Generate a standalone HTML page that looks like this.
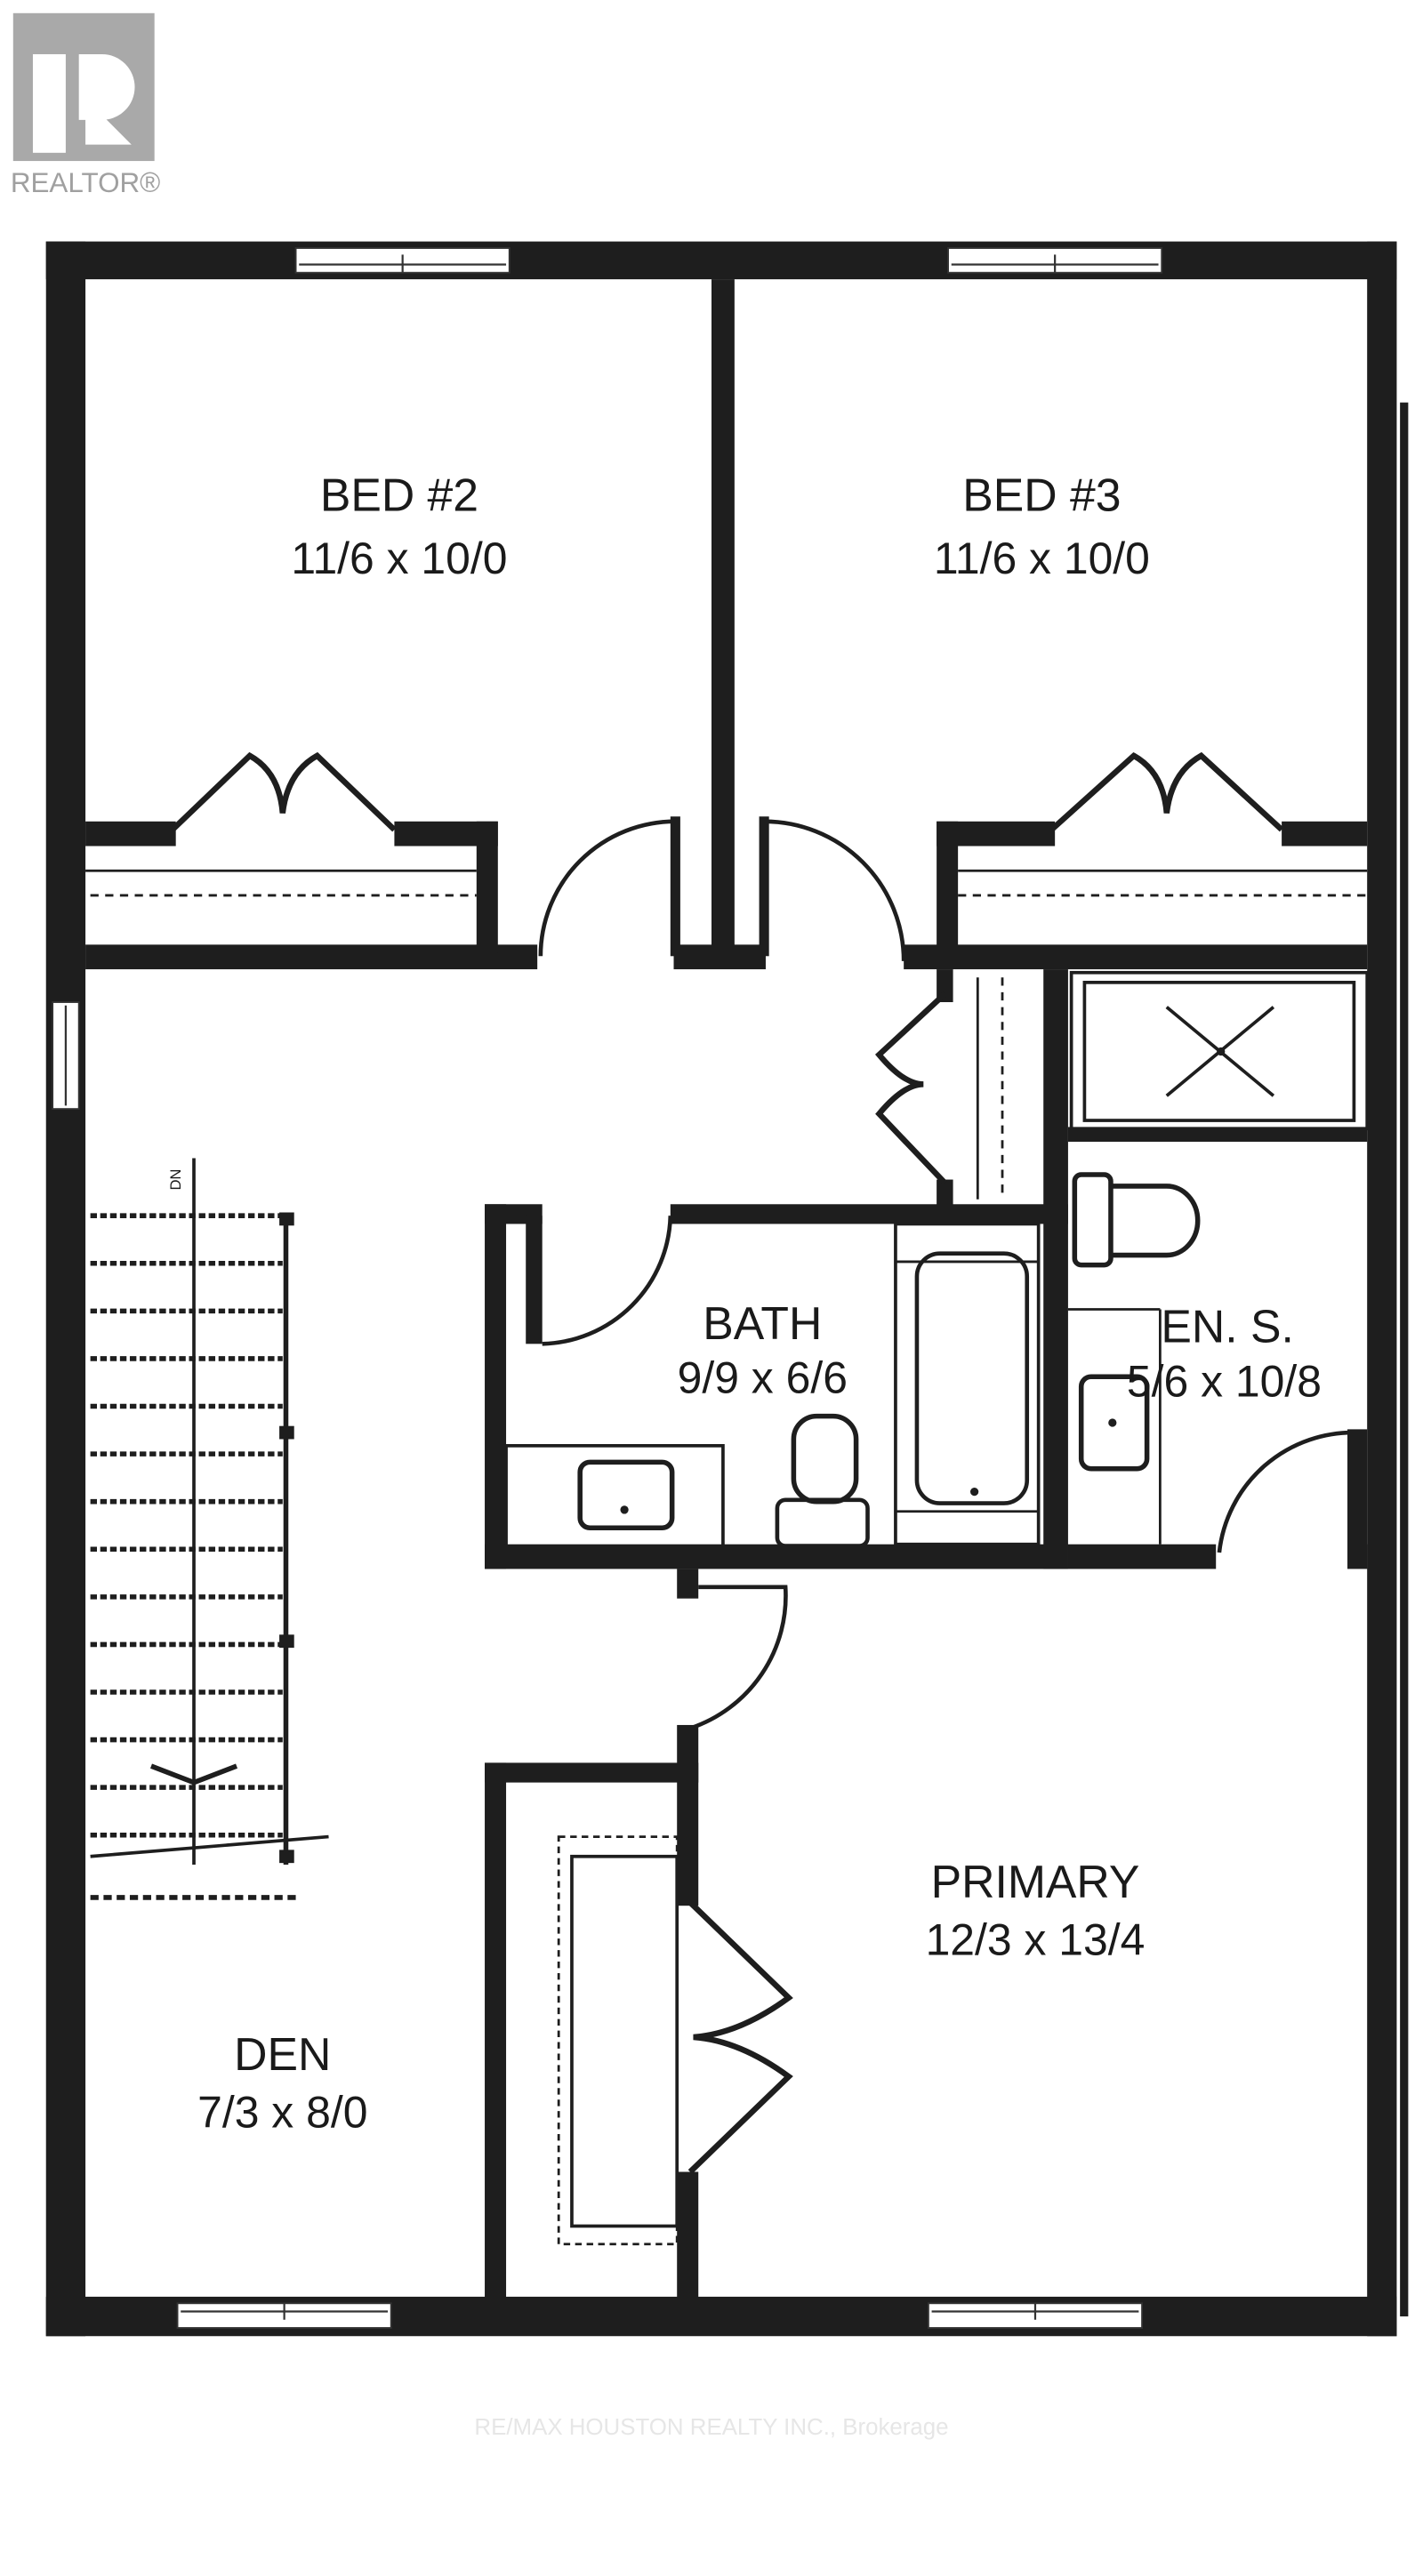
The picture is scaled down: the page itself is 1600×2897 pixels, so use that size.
<!DOCTYPE html>
<html><head><meta charset="utf-8"><style>
html,body{margin:0;padding:0;background:#fff;}
svg{display:block;}
text{font-family:"Liberation Sans",sans-serif;fill:#1a1a1a;text-anchor:middle;}
</style></head><body>
<svg width="1600" height="2897" viewBox="0 0 866 1568" xmlns="http://www.w3.org/2000/svg">
<rect width="866" height="1568" fill="#fff"/>
<rect x="8" y="8" width="86" height="90" fill="#a9a9a9"/>
<rect x="20" y="33" width="20" height="60" fill="#fff"/>
<path d="M48 33 H62 A20 20 0 0 1 62 73 L48 73 Z" fill="#fff"/>
<path d="M52 85 L52 60 L80 88 L52 88 Z" fill="#fff"/>
<text x="52" y="117" style="font-size:17px;fill:#a0a0a0">REALTOR®</text>

<g fill="#1e1e1e">
<rect x="28" y="147" width="822" height="23"/>
<rect x="28" y="147" width="24" height="1275"/>
<rect x="832" y="147" width="18" height="1275"/>
<rect x="28" y="1398" width="822" height="24"/>
<rect x="852" y="245" width="5" height="1165"/>
<rect x="433" y="170" width="14" height="415"/>
<rect x="410" y="575" width="56" height="15"/>
<rect x="52" y="575" width="275" height="15"/>
<rect x="52" y="500" width="55" height="15"/>
<rect x="240" y="500" width="63" height="15"/>
<rect x="290" y="500" width="13" height="80"/>
<rect x="408" y="497" width="6" height="85"/>
<rect x="462" y="497" width="6" height="85"/>
<rect x="550" y="575" width="282" height="15"/>
<rect x="570" y="500" width="13" height="80"/>
<rect x="570" y="500" width="72" height="15"/>
<rect x="780" y="500" width="52" height="15"/>
<rect x="635" y="590" width="15" height="365"/>
<rect x="650" y="686" width="182" height="9"/>
<rect x="570" y="590" width="10" height="20"/>
<rect x="570" y="718" width="10" height="20"/>
<rect x="408" y="733" width="242" height="12"/>
<rect x="295" y="733" width="35" height="12"/>
<rect x="295" y="733" width="13" height="222"/>
<rect x="320" y="740" width="10" height="78"/>
<rect x="295" y="940" width="355" height="15"/>
<rect x="650" y="940" width="90" height="15"/>
<rect x="820" y="870" width="12" height="85"/>
<rect x="832" y="940" width="15" height="15"/>
<rect x="412" y="955" width="13" height="18"/>
<rect x="412" y="1050" width="13" height="110"/>
<rect x="412" y="1322" width="13" height="78"/>
<rect x="295" y="1073" width="130" height="12"/>
<rect x="295" y="1073" width="13" height="330"/>
</g>
<g fill="#fff" stroke="#333" stroke-width="1">
<rect x="180" y="151" width="130" height="15"/>
<rect x="577" y="151" width="130" height="15"/>
<rect x="108" y="1402" width="130" height="15"/>
<rect x="565" y="1402" width="130" height="15"/>
<rect x="32" y="610" width="16" height="65"/>
</g>
<g stroke="#333" stroke-width="1.2">
<line x1="182" y1="161" x2="308" y2="161"/><line x1="245" y1="155" x2="245" y2="166"/>
<line x1="579" y1="161" x2="705" y2="161"/><line x1="642" y1="155" x2="642" y2="166"/>
<line x1="110" y1="1407" x2="236" y2="1407"/><line x1="173" y1="1402" x2="173" y2="1412"/>
<line x1="567" y1="1407" x2="693" y2="1407"/><line x1="630" y1="1402" x2="630" y2="1412"/>
<line x1="40" y1="612" x2="40" y2="673"/>
</g>
<g fill="none" stroke="#1e1e1e" stroke-width="2.5">
<line x1="52" y1="530" x2="290" y2="530" stroke-width="1.5"/>
<line x1="55" y1="545" x2="290" y2="545" stroke-width="1.5" stroke-dasharray="5 4"/>
<line x1="583" y1="530" x2="832" y2="530" stroke-width="1.5"/>
<line x1="583" y1="545" x2="832" y2="545" stroke-width="1.5" stroke-dasharray="5 4"/>
<path d="M105 505 L152 460 Q170 470 172 495 Q175 470 193 460 L240 505" stroke-width="3.5"/>
<path d="M640 505 L690 460 Q708 470 710 495 Q713 470 731 460 L780 505" stroke-width="3.5"/>
<path d="M575 605 L535 642 Q550 660 562 660 Q550 660 535 678 L575 720" stroke-width="3.5"/>
<path d="M420 1158 L480 1216 Q450 1238 422 1240 Q450 1242 480 1264 L420 1322" stroke-width="3.5"/>
<path d="M411 500 A82 82 0 0 0 329 582"/>
<path d="M465 500 A85 85 0 0 1 550 585"/>
<path d="M330 818 A80 80 0 0 0 408 740"/>
<path d="M826 872 A82 82 0 0 0 742 945"/>
<path d="M425 966 L478 966 A85 85 0 0 1 420 1052"/>
<line x1="595" y1="595" x2="595" y2="730" stroke-width="1.5"/>
<line x1="610" y1="595" x2="610" y2="730" stroke-width="1.5" stroke-dasharray="5 4"/>
<rect x="652" y="592" width="180" height="95" stroke-width="2"/>
<rect x="660" y="598" width="164" height="84" stroke-width="2"/>
<line x1="710" y1="613" x2="775" y2="667" stroke-width="2"/>
<line x1="775" y1="613" x2="710" y2="667" stroke-width="2"/>
<rect x="545" y="745" width="87" height="195" stroke-width="2"/>
<rect x="558" y="763" width="67" height="152" rx="14" stroke-width="2.5"/>
<line x1="545" y1="768" x2="632" y2="768" stroke-width="1.5"/>
<line x1="545" y1="920" x2="632" y2="920" stroke-width="1.5"/>
<rect x="308" y="880" width="132" height="62" stroke-width="2"/>
<rect x="353" y="890" width="56" height="40" rx="6" stroke-width="3"/>
<rect x="483" y="862" width="38" height="52" rx="14" stroke-width="3"/>
<rect x="473" y="913" width="55" height="28" rx="5" stroke-width="2.5"/>
<rect x="654" y="715" width="22" height="55" rx="4" stroke-width="3"/>
<path d="M676 722 L710 722 A18 20 0 0 1 710 764 L676 764" stroke-width="3"/>
<line x1="706" y1="797" x2="706" y2="940" stroke-width="1.5"/>
<line x1="650" y1="797" x2="706" y2="797" stroke-width="1.5"/>
<rect x="658" y="838" width="40" height="56" rx="6" stroke-width="3"/>
<rect x="340" y="1118" width="72" height="248" stroke-width="1.5" stroke-dasharray="4 3"/>
<rect x="348" y="1130" width="64" height="225" stroke-width="2"/>
<line x1="118" y1="705" x2="118" y2="1135" stroke-width="2"/>
<line x1="174" y1="740" x2="174" y2="1135" stroke-width="3"/>
<line x1="55" y1="1155" x2="180" y2="1155" stroke-width="3" stroke-dasharray="5 3"/>
<path d="M92 1075 L118 1085 L144 1075" stroke-width="3"/>
<line x1="55" y1="1130" x2="200" y2="1118" stroke-width="2"/>
</g>
<g fill="#1e1e1e">
<circle cx="380" cy="919" r="2.5"/><circle cx="677" cy="866" r="2.5"/><circle cx="593" cy="908" r="2.5"/><circle cx="743" cy="640" r="2.5"/>
<rect x="170" y="738" width="9" height="8"/><rect x="170" y="868" width="9" height="8"/><rect x="170" y="995" width="9" height="8"/><rect x="170" y="1126" width="9" height="8"/>
</g>
<g stroke="#1e1e1e" stroke-width="3" stroke-dasharray="4 2">
<line x1="55" y1="740" x2="172" y2="740"/><line x1="55" y1="769" x2="172" y2="769"/><line x1="55" y1="798" x2="172" y2="798"/><line x1="55" y1="827" x2="172" y2="827"/><line x1="55" y1="856" x2="172" y2="856"/><line x1="55" y1="885" x2="172" y2="885"/><line x1="55" y1="914" x2="172" y2="914"/><line x1="55" y1="943" x2="172" y2="943"/><line x1="55" y1="972" x2="172" y2="972"/><line x1="55" y1="1001" x2="172" y2="1001"/><line x1="55" y1="1030" x2="172" y2="1030"/><line x1="55" y1="1059" x2="172" y2="1059"/><line x1="55" y1="1088" x2="172" y2="1088"/><line x1="55" y1="1117" x2="172" y2="1117"/>
</g>
<text x="0" y="0" transform="translate(110 718) rotate(-90)" style="font-size:9px">DN</text>

<g style="font-size:28px">
<text x="243" y="311">BED #2</text>
<text x="243" y="349" style="font-size:27px">11/6 x 10/0</text>
<text x="634" y="311">BED #3</text>
<text x="634" y="349" style="font-size:27px">11/6 x 10/0</text>
<text x="464" y="815">BATH</text>
<text x="464" y="848" style="font-size:27px">9/9 x 6/6</text>
<text x="747" y="817">EN. S.</text>
<text x="745" y="850" style="font-size:27px">5/6 x 10/8</text>
<text x="630" y="1155">PRIMARY</text>
<text x="630" y="1190" style="font-size:27px">12/3 x 13/4</text>
<text x="172" y="1260">DEN</text>
<text x="172" y="1295" style="font-size:27px">7/3 x 8/0</text>
</g>
<text x="433" y="1482" style="font-size:14px;fill:#e6e6e6">RE/MAX HOUSTON REALTY INC., Brokerage</text>
</svg>
</body></html>
